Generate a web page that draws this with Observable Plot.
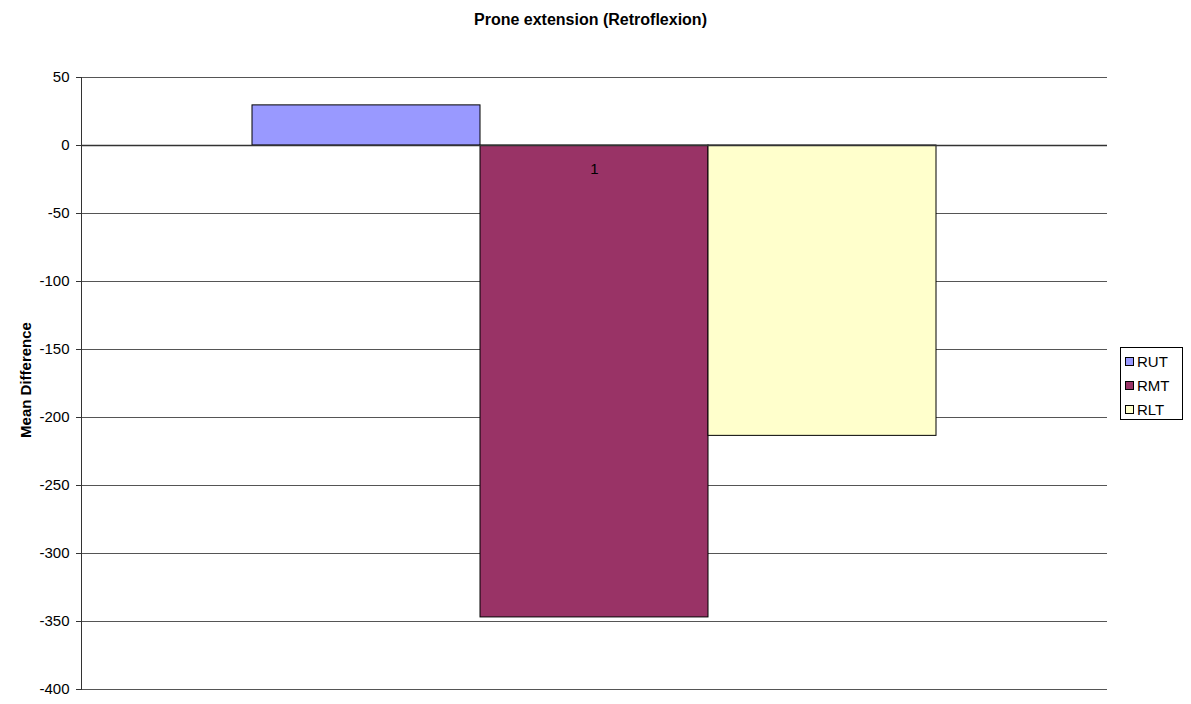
<!DOCTYPE html>
<html>
<head>
<meta charset="utf-8">
<script src="https://cdn.jsdelivr.net/npm/d3@7"></script>
<script src="https://cdn.jsdelivr.net/npm/@observablehq/plot@0.6"></script>
<style>
  body { margin: 0; background: #fff; font-family: "Liberation Sans", Arial, sans-serif; }
  #wrap { position: relative; width: 1191px; height: 704px; }
  #title { position: absolute; left: 0; width: 1181px; top: 10px; text-align: center;
           font-weight: bold; font-size: 16px; line-height: 20px; color: #000; }
  #ylabel { position: absolute; left: 25px; top: 380px; transform: translate(-50%, -50%) rotate(-90deg);
            font-weight: bold; font-size: 15px; white-space: nowrap; color: #000; }
  #legend { position: absolute; left: 1120px; top: 347px; width: 63px; height: 73px; border: 1px solid #000;
            padding: 1px 0 0 4px; box-sizing: border-box; font-size: 15px; background: #fff; }
  .item { display: flex; align-items: center; height: 24px; }
  .sw { width: 9px; height: 9px; border: 1px solid #000; margin-right: 3px; box-sizing: border-box; }
</style>
</head>
<body>
<div id="wrap">
  <div id="title">Prone extension (Retroflexion)</div>
  <div id="ylabel">Mean Difference</div>
  <div id="legend"></div>
</div>
<script>
// Mean difference per thoracic region, single category "1"
const categories = ["1"];
const series = ["RUT", "RMT", "RLT"];
const values = [29.5, -347, -213.5];
const colors = ["#9999FF", "#993366", "#FFFFCC"];
const yTicks = [50, 0, -50, -100, -150, -200, -250, -300, -350, -400];

const rows = series.map((s, i) => ({series: s, value: values[i]}));

const chart = Plot.plot({
  width: 1191,
  height: 704,
  marginLeft: 81,
  marginRight: 84,
  marginTop: 77,
  marginBottom: 15,
  style: {fontFamily: "Liberation Sans, Arial, sans-serif", fontSize: "15px", color: "#000", background: "transparent"},
  x: {domain: series, paddingInner: 0, paddingOuter: 0.75, axis: null},
  y: {domain: [-400, 50], ticks: yTicks},
  color: {domain: series, range: colors},
  marks: [
    Plot.ruleY(yTicks, {stroke: "#555", strokeWidth: 1}),
    Plot.barY(rows, {x: "series", y: "value", fill: "series", stroke: "#000", strokeWidth: 1}),
    Plot.ruleY([0], {stroke: "#333", strokeWidth: 1.5}),
    Plot.frame({anchor: "left", stroke: "#333"}),
    Plot.axisY({ticks: yTicks, tickSize: 5, tickPadding: 7, tickFormat: d => String(d), label: null, stroke: "#333", fontSize: 15}),
    Plot.text(categories, {y: 0, text: d => d, dy: 24, lineAnchor: "middle", fill: "#000", fontSize: 15})
  ]
});
document.getElementById("wrap").prepend(chart);

const legend = document.getElementById("legend");
series.forEach((s, i) => {
  const item = document.createElement("div");
  item.className = "item";
  const sw = document.createElement("span");
  sw.className = "sw";
  sw.style.background = colors[i];
  const t = document.createElement("span");
  t.textContent = s;
  item.append(sw, t);
  legend.append(item);
});
</script>
</body>
</html>
